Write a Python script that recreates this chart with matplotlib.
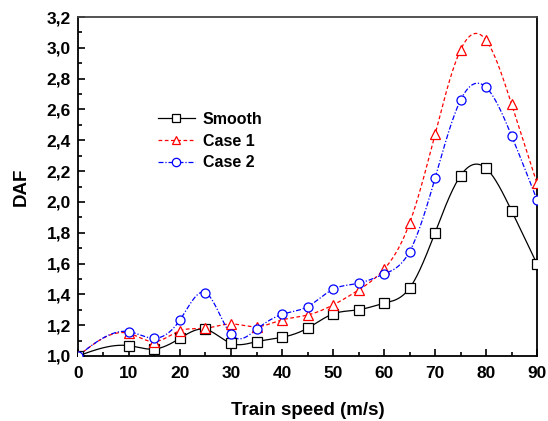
import numpy as np
import matplotlib
matplotlib.use('Agg')
import matplotlib.pyplot as plt
from matplotlib.ticker import MultipleLocator, FuncFormatter

speed = [0, 10, 15, 20, 25, 30, 35, 40, 45, 50, 55, 60, 65, 70, 75, 80, 85, 90]
smooth = [1.0, 1.067, 1.045, 1.115, 1.173, 1.082, 1.093, 1.121, 1.18, 1.273,
          1.30, 1.342, 1.44, 1.80, 2.17, 2.218, 1.943, 1.597]
case1 = [1.0, 1.147, 1.093, 1.164, 1.18, 1.208, 1.19, 1.234, 1.266, 1.331,
         1.428, 1.563, 1.861, 2.439, 2.986, 3.05, 2.635, 2.12]
case2 = [1.0, 1.158, 1.115, 1.234, 1.411, 1.141, 1.173, 1.27, 1.32, 1.433,
         1.472, 1.532, 1.677, 2.153, 2.66, 2.744, 2.43, 2.013]


def spline(x, y, n=600):
    # natural cubic spline, numpy only
    x = np.asarray(x, float)
    y = np.asarray(y, float)
    h = np.diff(x)
    m = len(x)
    A = np.zeros((m, m))
    b = np.zeros(m)
    A[0, 0] = A[-1, -1] = 1
    for i in range(1, m - 1):
        A[i, i - 1] = h[i - 1]
        A[i, i] = 2 * (h[i - 1] + h[i])
        A[i, i + 1] = h[i]
        b[i] = 3 * ((y[i + 1] - y[i]) / h[i] - (y[i] - y[i - 1]) / h[i - 1])
    c = np.linalg.solve(A, b)
    xs = np.linspace(x[0], x[-1], n)
    k = np.clip(np.searchsorted(x, xs) - 1, 0, m - 2)
    d = (c[k + 1] - c[k]) / (3 * h[k])
    bb = (y[k + 1] - y[k]) / h[k] - h[k] * (2 * c[k] + c[k + 1]) / 3
    t = xs - x[k]
    return xs, y[k] + bb * t + c[k] * t ** 2 + d * t ** 3


plt.rcParams['font.family'] = ['Liberation Sans', 'DejaVu Sans']
plt.rcParams['font.weight'] = 'bold'

fig = plt.figure(figsize=(5.48, 4.21), dpi=100)
ax = fig.add_axes([0.1423, 0.1544, 0.8377, 0.8052])

series = [
    (smooth, 'black', '-', 's', 'Smooth'),
    (case1, 'red', (0, (3, 2)), '^', 'Case 1'),
    (case2, 'blue', (0, (4, 1.5, 1, 1.5)), 'o', 'Case 2'),
]
for vals, col, ls, mk, lab in series:
    xs, ys = spline(speed, vals)
    ax.plot(xs, ys, color=col, ls=ls, lw=0.9, zorder=2)
    ax.plot(speed, vals, ls='none', marker=mk, ms=6.5, mfc='white',
            mec=col, mew=0.9, zorder=3)
    ax.plot([], [], color=col, ls=ls, lw=0.9, marker=mk, ms=6,
            mfc='white', mec=col, mew=0.9, label=lab)

ax.set_xlim(0, 90)
ax.set_ylim(1.0, 3.2)
ax.xaxis.set_major_locator(MultipleLocator(10))
ax.xaxis.set_minor_locator(MultipleLocator(5))
ax.yaxis.set_major_locator(MultipleLocator(0.2))
ax.yaxis.set_minor_locator(MultipleLocator(0.1))
ax.yaxis.set_major_formatter(FuncFormatter(lambda v, p: ('%.1f' % v).replace('.', ',')))
ax.tick_params(which='both', direction='in', top=False, right=False,
               width=1.2, labelsize=12.5)
ax.tick_params(which='major', length=5)
ax.tick_params(which='minor', length=3)
ax.tick_params(axis='x', pad=7)
ax.tick_params(axis='y', pad=5)
for s in ax.spines.values():
    s.set_linewidth(1.3)
ax.spines['top'].set_color('#444444')

ax.set_xlabel('Train speed (m/s)', fontsize=13.5, fontweight='bold', labelpad=15)
ax.set_ylabel('DAF', fontsize=13.5, fontweight='bold', labelpad=12)

ax.legend(loc='upper left', bbox_to_anchor=(0.174, 0.72), frameon=False,
          fontsize=11.5, handlelength=2.3, labelspacing=0.42, handletextpad=0.5,
          borderpad=0, borderaxespad=0)

fig.savefig('out.png', dpi=100)
